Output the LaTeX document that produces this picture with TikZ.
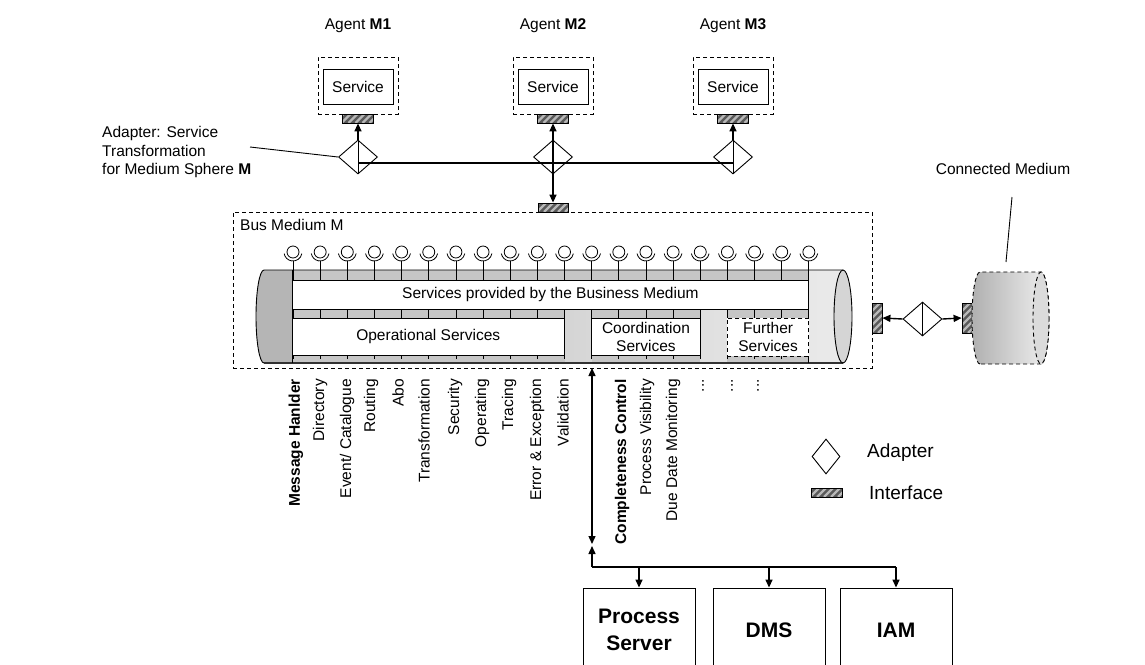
\documentclass[tikz,border=0pt]{standalone}
\usepackage{fontspec}
\setmainfont{Liberation Sans}
\usetikzlibrary{arrows.meta,shapes.geometric}
\begin{document}
\begin{tikzpicture}[x=1pt,y=-1pt,
 every node/.append style={font=\fontsize{15.5}{18}\selectfont},
 box/.style={draw, line width=0.9pt, fill=white, inner sep=0pt, align=center},
 dbox/.style={draw, dash pattern=on 4pt off 3pt, line width=0.9pt, inner sep=0pt, align=center},
 adapter/.style={draw, diamond, line width=0.9pt, fill=white, minimum width=39pt, minimum height=34pt, inner sep=0pt},
 iface/.style={draw, line width=0.8pt, fill=black!65, inner sep=0pt,
   path picture={\foreach \s in {-50,-43,...,40}{\draw[white!72!black, line width=2.2pt] ([xshift=\s pt]path picture bounding box.south west) -- ++(60pt,60pt);}}},
 thinl/.style={line width=0.9pt},
 conn/.style={line width=1.4pt},
 arr/.style={line width=1.4pt, -{Triangle[length=8pt,width=7pt]}},
 darr/.style={line width=1.4pt, {Triangle[length=8pt,width=7pt]}-{Triangle[length=8pt,width=7pt]}},
 vlabel/.style={rotate=90, anchor=east, inner sep=0pt},
 legtxt/.style={anchor=west, inner sep=0pt, font=\fontsize{19}{22}\selectfont}
]
\useasboundingbox (0,0) rectangle (1145,664);

% ---------- agents ----------
\foreach \n/\x in {1/358,2/553,3/733}{
  \node (ag\n) at (\x,26) {Agent \textbf{M\n}};
  \node[dbox, minimum width=80pt, minimum height=57pt] (ab\n) at (\x,85.5) {};
  \node[box, minimum width=70pt, minimum height=35pt] (s\n) at (\x,86.5) {Service};
  \node[iface, minimum width=31pt, minimum height=9pt] (i\n) at (\x,118.5) {};
  \node[adapter] (d\n) at (\x,157) {};
}

% ---------- bus medium container ----------
\node[dbox, minimum width=639pt, minimum height=156pt] (bus) at (552.5,290) {};
\node[anchor=west, inner sep=0pt] (busl) at (240,225) {Bus Medium M};
\node[iface, minimum width=30pt, minimum height=9pt] (ib) at (553,207.5) {};

% agent connectors
\draw[thinl] (d1.north) -- (d1.south);
\draw[thinl] (d3.north) -- (d3.south);
\draw[arr] (d1.north) -- (i1.south);
\draw[arr] (d3.north) -- (i3.south);
\draw[conn] ([yshift=-6pt]d1.center) -- ([yshift=-6pt]d3.center);
\draw[darr] (i2.south) -- (ib.north);

% adapter label
\node[anchor=west, align=left, inner sep=0pt, font=\fontsize{15.5}{18.5}\selectfont] (adl) at (102,152) {Adapter: Service\\Transformation\\for Medium Sphere \textbf{M}};
\coordinate (adc) at (250,147);
\draw[thinl] (adc) -- (d1.west);

% ---------- cylinder ----------
\shade[left color=gray!52, right color=gray!16] (264,363) arc[start angle=90,end angle=270,x radius=8,y radius=46.5] -- (843,270) -- (843,363) -- cycle;
\fill[gray!58] (292,363) -- (264,363) arc[start angle=90,end angle=270,x radius=8,y radius=46.5] -- (292,270) -- cycle;
% bands
\fill[gray!45] (292,270) rectangle (808.85,280);
\fill[gray!45] (292,309) rectangle (564.5,318);
\fill[gray!45] (591.65,309) rectangle (700.25,318);
\fill[gray!45] (727.4,309) rectangle (808.85,318);
\fill[gray!45] (292,355) rectangle (564.5,363);
\fill[gray!45] (591.65,355) rectangle (700.25,363);
\fill[gray!45] (727.4,356) rectangle (808.85,363);
% outline
\draw[thinl] (843,270) -- (264,270) arc[start angle=270,end angle=90,x radius=8,y radius=46.5] -- (843,363);
\draw[line width=1.3pt, black!80] (264,363) -- (843,363);
\filldraw[fill=gray!33, line width=0.9pt] (843,316.5) ellipse [x radius=9, y radius=46.5];
\draw[thinl] (292,270) -- (292,363);
\draw[thinl] (808.85,270) -- (808.85,363);

% service access points and ticks
\foreach \k in {0,...,19}{
  \pgfmathsetmacro{\xx}{293+27.15*\k}
  \draw[line width=0.8pt] (\xx,252) circle[radius=6];
  \draw[line width=0.8pt] (\xx+8.86,253.56) arc[start angle=10,end angle=170,radius=9];
  \draw[line width=0.8pt] (\xx,261) -- (\xx,280);
  \draw[line width=0.8pt] (\xx,309) -- (\xx,318);
  \draw[line width=0.8pt] (\xx,355) -- (\xx,359);
}

% inner boxes
\node[box, minimum width=516.85pt, minimum height=29pt] (sp) at (550.4,294.5) {Services provided by the Business Medium};
\node[box, minimum width=272.5pt, minimum height=37pt] (op) at (428.25,336.5) {Operational Services};
\node[box, minimum width=108.6pt, minimum height=37pt] (co) at (645.95,336.5) {Coordination\\Services};
\node[dbox, fill=white, minimum width=81.45pt, minimum height=38pt] (fu) at (768.1,337) {Further\\Services};

% ---------- vertical labels ----------
\node[vlabel] (v1) at (296,379) {\textbf{Message Hanlder}};
\node[vlabel] (v2) at (320,379) {Directory};
\node[vlabel] (v3) at (347,379) {Event/ Catalogue};
\node[vlabel] (v4) at (371,379) {Routing};
\node[vlabel] (v5) at (398,379) {Abo};
\node[vlabel] (v6) at (424,379) {Transformation};
\node[vlabel] (v7) at (455,379) {Security};
\node[vlabel] (v8) at (482,379) {Operating};
\node[vlabel] (v9) at (509,379) {Tracing};
\node[vlabel] (v10) at (537,379) {Error \& Exception};
\node[vlabel] (v11) at (563,379) {Validation};
\node[vlabel] (v12) at (622,379) {\textbf{Completeness Control}};
\node[vlabel] (v13) at (647,379) {Process Visibility};
\node[vlabel] (v14) at (673,379) {Due Date Monitoring};
\node[vlabel] (v15) at (703,379) {...};
\node[vlabel] (v16) at (732,379) {...};
\node[vlabel] (v17) at (758,379) {...};

% ---------- lower connection ----------
\coordinate (c1) at (592,368);
\coordinate (c2) at (592,544);
\coordinate (c3) at (592,567);
\coordinate (c4) at (592,546);
\draw[darr] (c1) -- (c2);
\draw[arr] (c3) -- (c4);
\node[box, minimum width=112pt, minimum height=84pt, font=\bfseries\fontsize{21}{27}\selectfont] (ps) at (639,630) {Process\\Server};
\node[box, minimum width=112pt, minimum height=84pt, font=\bfseries\fontsize{21}{27}\selectfont] (dms) at (769,630) {DMS};
\node[box, minimum width=112pt, minimum height=84pt, font=\bfseries\fontsize{21}{27}\selectfont] (iam) at (896,630) {IAM};
\draw[conn] (c3) -- (c3 -| iam.north);
\draw[arr] (c3 -| ps.north) -- (ps.north);
\draw[arr] (c3 -| dms.north) -- (dms.north);
\draw[arr] (c3 -| iam.north) -- (iam.north);

% ---------- connected medium ----------
\node[iface, minimum width=10pt, minimum height=30pt] (ir1) at (877,318) {};
\node[adapter] (dr) at (922.5,319) {};
\draw[thinl] (dr.north) -- (dr.south);
\node[iface, minimum width=10pt, minimum height=30pt] (ir2) at (967,318) {};
\draw[arr] (dr.west) -- (ir1.east);
\draw[arr] (dr.east) -- (ir2.west);

\shade[left color=gray!62, right color=gray!12] (980,364) arc[start angle=90,end angle=270,x radius=8,y radius=46] -- (1041,272) arc[start angle=270,end angle=450,x radius=8,y radius=46] -- cycle;
\draw[thinl, dash pattern=on 4pt off 3pt] (980,364) arc[start angle=90,end angle=270,x radius=8,y radius=46] -- (1041,272) arc[start angle=270,end angle=450,x radius=8,y radius=46] -- cycle;
\filldraw[fill=gray!28, thinl, dash pattern=on 4pt off 3pt] (1041,318) ellipse [x radius=8, y radius=46];
\node (cml) at (1003,169) {Connected Medium};
\coordinate (cm1) at (1012,197);
\coordinate (cm2) at (1006,262);
\draw[thinl] (cm1) -- (cm2);

% ---------- legend ----------
\node[draw, diamond, line width=0.9pt, minimum width=28pt, minimum height=35pt, inner sep=0pt] (ld) at (826,456.5) {};
\node[legtxt] (ldt) at (867,453) {Adapter};
\node[iface, minimum width=31pt, minimum height=9pt] (li) at (826.5,492.5) {};
\node[legtxt] (lit) at (869,493) {Interface};
\end{tikzpicture}
\end{document}
